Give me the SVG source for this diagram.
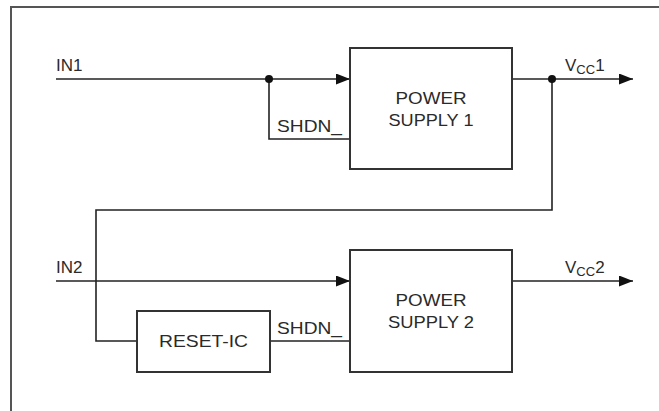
<svg xmlns="http://www.w3.org/2000/svg" width="659" height="411" viewBox="0 0 659 411">
<style>
.w{fill:none;stroke:#222;stroke-width:1.6}
.b{fill:#fff;stroke:#333;stroke-width:2}
.t{font-family:"Liberation Sans",Arial,sans-serif;font-size:17px;fill:#2a2a2a}
.m{text-anchor:middle}
</style>
<defs>
<marker id="ar" markerUnits="userSpaceOnUse" markerWidth="14" markerHeight="11" refX="14" refY="5.5" orient="auto">
<path d="M0,0 L14,5.5 L0,11 z" fill="#111"/>
</marker>
</defs>
<rect width="659" height="411" fill="#fff"/>
<g id="frame" fill="none" stroke="#555" stroke-width="2">
<path d="M659,7 H11 V411"/>
</g>
<g id="connectors">
<path class="w" d="M56,79 H350" marker-end="url(#ar)"/>
<path class="w" d="M269,79 V139 H350"/>
<path class="w" d="M512,79 H633" marker-end="url(#ar)"/>
<path class="w" d="M552,79 V210 H96 V341 H137"/>
<path class="w" d="M56,281 H350" marker-end="url(#ar)"/>
<path class="w" d="M270,341 H350"/>
<path class="w" d="M512,281 H633" marker-end="url(#ar)"/>
<circle cx="269" cy="79" r="4" fill="#111"/>
<circle cx="552" cy="79" r="4" fill="#111"/>
</g>
<g id="ps1">
<rect class="b" x="350" y="48" width="162" height="121"/>
<text class="t m" x="431" y="104" textLength="71" lengthAdjust="spacingAndGlyphs">POWER</text>
<text class="t m" x="431" y="126" textLength="85" lengthAdjust="spacingAndGlyphs">SUPPLY 1</text>
</g>
<g id="ps2">
<rect class="b" x="350" y="250" width="162" height="122"/>
<text class="t m" x="431" y="306" textLength="71" lengthAdjust="spacingAndGlyphs">POWER</text>
<text class="t m" x="431" y="328" textLength="86" lengthAdjust="spacingAndGlyphs">SUPPLY 2</text>
</g>
<g id="reset">
<rect class="b" x="137" y="311" width="133" height="61"/>
<text class="t m" x="203.5" y="347" textLength="89" lengthAdjust="spacingAndGlyphs">RESET-IC</text>
</g>
<g id="labels">
<text class="t" x="56" y="71">IN1</text>
<text class="t" x="56" y="273">IN2</text>
<text class="t" x="277" y="132" textLength="65" lengthAdjust="spacingAndGlyphs">SHDN_</text>
<text class="t" x="277" y="334" textLength="65" lengthAdjust="spacingAndGlyphs">SHDN_</text>
<text class="t" x="565" y="71">V<tspan font-size="13" dy="3">CC</tspan><tspan dy="-3">1</tspan></text>
<text class="t" x="565" y="273">V<tspan font-size="13" dy="3">CC</tspan><tspan dy="-3">2</tspan></text>
</g>
</svg>
